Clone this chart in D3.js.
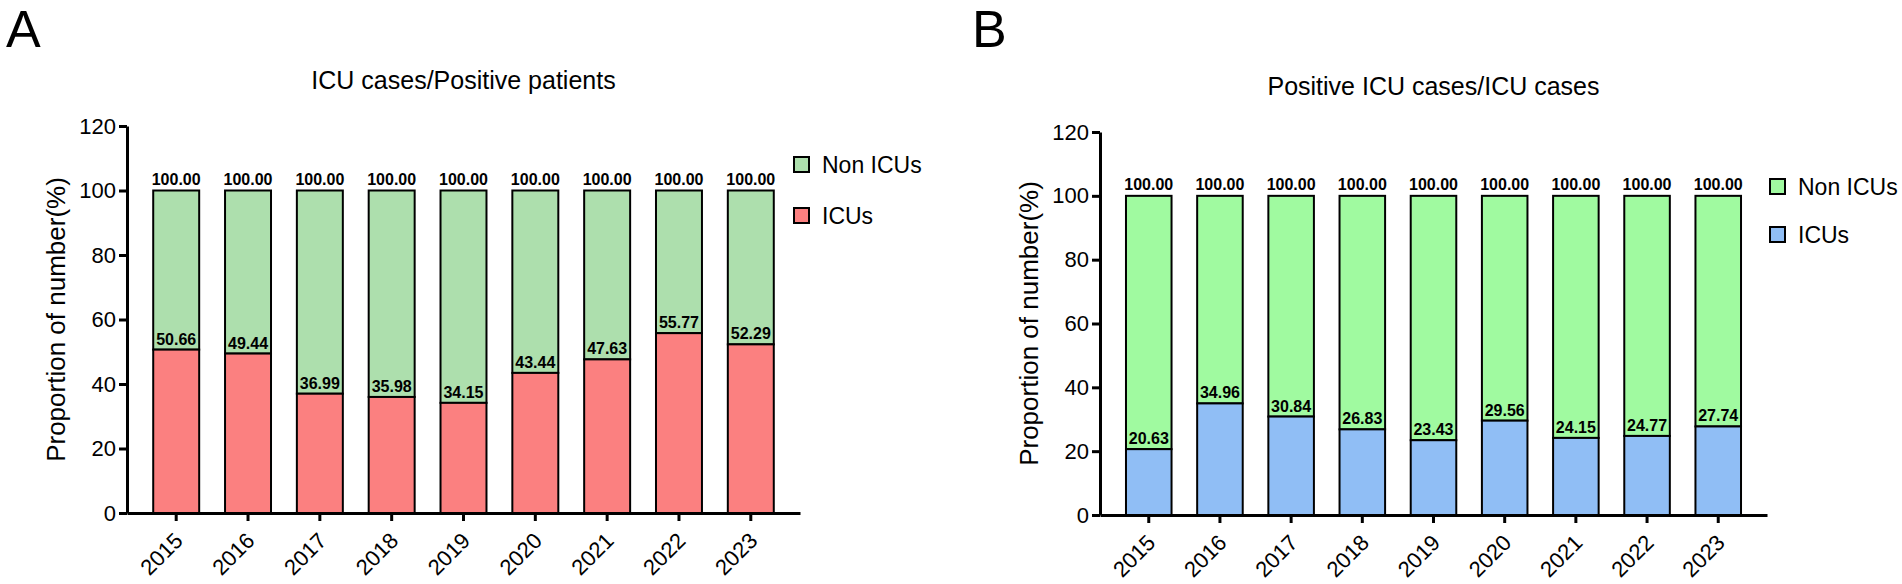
<!DOCTYPE html>
<html>
<head>
<meta charset="utf-8">
<script src="https://cdn.jsdelivr.net/npm/d3@7"></script>
<style>
  body { margin: 0; background: #fff; }
  svg { display: block; font-family: "Liberation Sans", Arial, sans-serif; }
</style>
</head>
<body>
<script>
// years on the x axis
var years = ["2015", "2016", "2017", "2018", "2019", "2020", "2021", "2022", "2023"];
var yTicks = [0, 20, 40, 60, 80, 100, 120];
var totalValue = 100;

// panel A: ICU cases / positive patients (%)
var icuShareA = [50.66, 49.44, 36.99, 35.98, 34.15, 43.44, 47.63, 55.77, 52.29];
// panel B: positive ICU cases / ICU cases (%)
var icuShareB = [20.63, 34.96, 30.84, 26.83, 23.43, 29.56, 24.15, 24.77, 27.74];

var seriesNames = ["Non ICUs", "ICUs"];

var svg = d3.select("body").append("svg")
    .attr("width", 1902)
    .attr("height", 584);

function drawPanel(p) {
    var x = d3.scaleBand()
        .domain(years)
        .range([p.left, p.right])
        .paddingInner(0.36)
        .paddingOuter(0.365);
    var y = d3.scaleLinear()
        .domain([0, 120])
        .range([p.bottom, p.top]);

    var g = svg.append("g");

    // panel letter
    g.append("text")
        .attr("x", p.letterX)
        .attr("y", 47)
        .attr("font-size", 52)
        .text(p.letter);

    // title, centred over the plot
    g.append("text")
        .attr("x", (p.left + p.right) / 2)
        .attr("y", p.titleY)
        .attr("text-anchor", "middle")
        .attr("font-size", 25)
        .text(p.title);

    // bars: ICU part from 0, non ICU part up to 100
    var bars = g.append("g").selectAll("g")
        .data(years)
        .enter().append("g");

    bars.append("rect")
        .attr("x", d => x(d))
        .attr("width", x.bandwidth())
        .attr("y", y(totalValue))
        .attr("height", (d, i) => y(p.values[i]) - y(totalValue))
        .attr("fill", p.colors[0])
        .attr("stroke", "#000")
        .attr("stroke-width", 2);

    bars.append("rect")
        .attr("x", d => x(d))
        .attr("width", x.bandwidth())
        .attr("y", (d, i) => y(p.values[i]))
        .attr("height", (d, i) => y(0) - y(p.values[i]))
        .attr("fill", p.colors[1])
        .attr("stroke", "#000")
        .attr("stroke-width", 2);

    // value labels
    bars.append("text")
        .attr("x", d => x(d) + x.bandwidth() / 2)
        .attr("y", y(totalValue) - 6)
        .attr("text-anchor", "middle")
        .attr("font-size", 16)
        .attr("font-weight", "bold")
        .text(totalValue.toFixed(2));

    bars.append("text")
        .attr("x", d => x(d) + x.bandwidth() / 2)
        .attr("y", (d, i) => y(p.values[i]) - 5)
        .attr("text-anchor", "middle")
        .attr("font-size", 16)
        .attr("font-weight", "bold")
        .text((d, i) => p.values[i].toFixed(2));

    // y axis
    var yAxis = g.append("g")
        .attr("transform", "translate(" + p.left + ",0)")
        .call(d3.axisLeft(y).tickValues(yTicks).tickSize(8).tickSizeOuter(0).tickPadding(3));
    yAxis.select(".domain").attr("stroke-width", 3);
    yAxis.selectAll(".tick line").attr("stroke-width", 3);
    yAxis.selectAll(".tick text").attr("font-size", 22).attr("fill", "#000").attr("font-family", null);

    // x axis
    var xAxis = g.append("g")
        .attr("transform", "translate(0," + p.bottom + ")")
        .call(d3.axisBottom(x).tickSize(8).tickSizeOuter(0));
    xAxis.select(".domain").attr("stroke-width", 3);
    xAxis.selectAll(".tick line").attr("stroke-width", 3);
    xAxis.selectAll(".tick text")
        .attr("font-size", 22)
        .attr("fill", "#000")
        .attr("font-family", null)
        .attr("text-anchor", "end")
        .attr("dy", null)
        .attr("y", 0)
        .attr("transform", "translate(8,29) rotate(-45)");

    // y axis title
    g.append("text")
        .attr("transform", "translate(" + (p.left - 62) + "," + ((p.top + p.bottom) / 2) + ") rotate(-90)")
        .attr("text-anchor", "middle")
        .attr("font-size", 26)
        .text("Proportion of number(%)");

    // legend
    var leg = g.append("g").selectAll("g")
        .data(seriesNames)
        .enter().append("g")
        .attr("transform", (d, i) => "translate(" + p.legendX + "," + (p.legendY + i * p.legendStep) + ")");
    leg.append("rect")
        .attr("x", 1).attr("y", -8)
        .attr("width", 15).attr("height", 15)
        .attr("fill", (d, i) => p.colors[i])
        .attr("stroke", "#000")
        .attr("stroke-width", 2);
    leg.append("text")
        .attr("x", 29)
        .attr("y", 8)
        .attr("font-size", 23)
        .text(d => d);
}

drawPanel({
    letter: "A", letterX: 6,
    title: "ICU cases/Positive patients", titleY: 89,
    values: icuShareA,
    colors: ["#addfad", "#fb8080"],
    left: 127, right: 800, top: 126, bottom: 513,
    legendX: 793, legendY: 165, legendStep: 51
});

drawPanel({
    letter: "B", letterX: 972,
    title: "Positive ICU cases/ICU cases", titleY: 95,
    values: icuShareB,
    colors: ["#a0faa0", "#90bef5"],
    left: 1100, right: 1767, top: 132, bottom: 515,
    legendX: 1769, legendY: 187, legendStep: 48
});
</script>
</body>
</html>
